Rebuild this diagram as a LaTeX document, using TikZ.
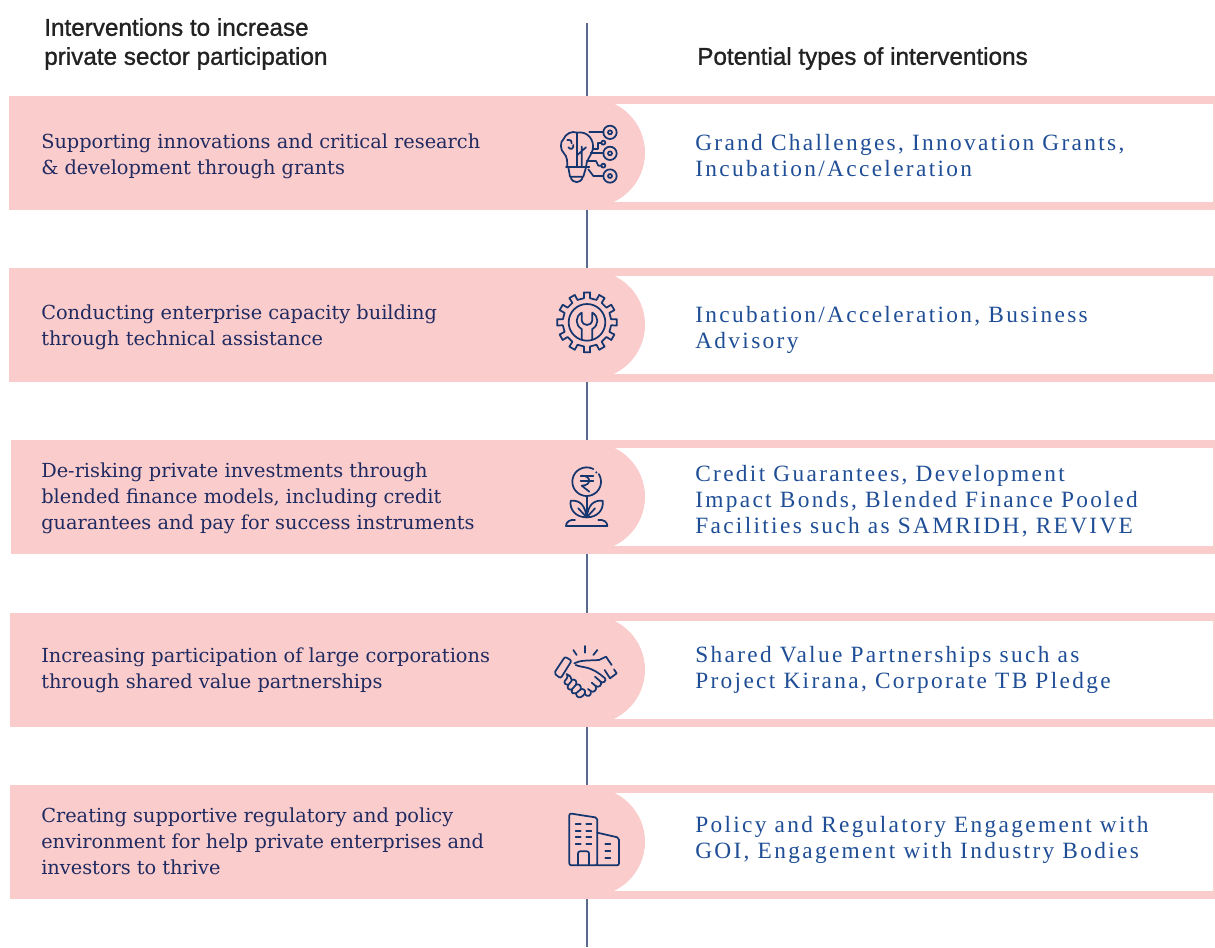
\documentclass[tikz,border=0pt]{standalone}
\usepackage{fontspec}
\setmainfont{DejaVu Serif}
\newfontfamily\lefttxt{DejaVu Serif}
\newfontfamily\righttxt[LetterSpace=10]{Liberation Serif}
\newfontfamily\headtxt[FakeBold=1.2]{Liberation Sans}
\definecolor{bandpink}{HTML}{FBCCCC}
\definecolor{axisline}{HTML}{5A6A8C}
\definecolor{navy}{HTML}{1F2A60}
\definecolor{rblue}{HTML}{1F4E96}
\definecolor{icon}{HTML}{14356E}
\definecolor{headc}{HTML}{222222}
\tikzset{
  lefttext/.style={anchor=west,inner sep=0pt,align=left,text=navy,font=\lefttxt\fontsize{14.5}{19.5}\selectfont},
  righttext/.style={anchor=west,inner sep=0pt,align=left,text=rblue,font=\righttxt\fontsize{17.5}{19.5}\selectfont},
  headtext/.style={anchor=west,inner sep=0pt,align=left,text=headc,font=\headtxt\fontsize{18.2}{21.75}\selectfont},
  ic/.style={draw=icon,line width=1.3pt,line cap=round,line join=round},
  iczoom/.style={x=0.25pt,y=-0.25pt},
}
\begin{document}
\begin{tikzpicture}[x=0.75pt,y=-0.75pt]
\useasboundingbox (0,0) rectangle (1215,947);
\fill[white] (0,0) rectangle (1215,947);
\coordinate (axistop) at (587,23);
\coordinate (axisbottom) at (587,947);
\draw[axisline,line width=1pt] (axistop) -- (axisbottom);
\foreach \t/\l in {96/9,268/9,440/10.5,613/10,785/10}{
  \fill[bandpink] (587,\t) rectangle (1215,\t+113.5);
  \fill[white] (600,\t+7.5) rectangle (1213,\t+106);
  \fill[bandpink] (\l,\t) rectangle (591,\t+113.5);
  \fill[bandpink] (590.7,\t+56.75) circle (54.3);
}
\node[headtext] (h1) at (44,44) {Interventions to increase\\private sector participation};
\node[headtext] (h2) at (697,58.5) {Potential types of interventions};

\node[lefttext] (l1) at (41,156) {Supporting innovations and critical research\\\& development through grants};
\node[lefttext] (l2) at (41,327) {Conducting enterprise capacity building\\through technical assistance};
\node[lefttext] (l3) at (41,498) {De-risking private investments through\\blended finance models, including credit\\guarantees and pay for success instruments};
\node[lefttext] (l4) at (41,670) {Increasing participation of large corporations\\through shared value partnerships};
\node[lefttext] (l5) at (41,841) {Creating supportive regulatory and policy\\environment for help private enterprises and\\investors to thrive};

\node[righttext] (r1) at (695,156) {Grand Challenges, Innovation Grants,\\Incubation/Acceleration};
\node[righttext] (r2) at (695,330) {Incubation/Acceleration, Business\\Advisory};
\node[righttext] (r3) at (695,501) {Credit Guarantees, Development\\Impact Bonds, Blended Finance Pooled\\Facilities such as SAMRIDH, REVIVE};
\node[righttext] (r4) at (695,670) {Shared Value Partnerships such as\\Project Kirana, Corporate TB Pledge};
\node[righttext] (r5) at (695,840) {Policy and Regulatory Engagement with\\GOI, Engagement with Industry Bodies};

% icon 1: brain bulb
\begin{scope}[shift={(530,90)},iczoom]
  \draw[ic] (240,127) circle (20) (240,190) circle (20) (240,258) circle (20);
  \draw[ic] (240,127) circle (6) (240,190) circle (6) (240,258) circle (6);
  \draw[ic] (220,158) circle (6) (220,227) circle (6);
  \draw[ic] (178,127) -- (220,127);
  \draw[ic] (190,178) -- (205,178) -- (205,158) -- (214,158);
  \draw[ic] (182,190) -- (220,190);
  \draw[ic] (170,213) -- (198,213) -- (205,227) -- (214,227);
  \draw[ic] (175,238) -- (190,258) -- (220,258);
  \draw[ic] (142,128) -- (142,232);
  \draw[ic] (142,128) .. controls (125,122) and (108,130) .. (100,148) .. controls (90,155) and (90,180) .. (102,190) .. controls (112,200) and (112,215) .. (112,232);
  \draw[ic] (142,128) .. controls (172,122) and (195,150) .. (188,180) .. controls (182,200) and (168,210) .. (168,232);
  \draw[ic] (108,232) -- (178,232);
  \draw[ic] (115,232) -- (120,260) -- (160,260) -- (168,232);
  \draw[ic] (122,260) .. controls (125,282) and (155,282) .. (158,260);
  \draw[ic] (155,232) -- (155,170) (142,195) -- (168,172);
  \draw[ic] (115,172) .. controls (125,182) and (130,175) .. (130,165);
  \draw[ic] (112,150) .. controls (122,148) and (128,155) .. (125,160);
\end{scope}

% icon 2: gear and wrench
\begin{scope}[shift={(530,265)},iczoom]
  \begin{scope}[shift={(171,172)}]
    \draw[ic] (-9:73)
      \foreach \a in {0,30,...,330}{ -- (\a-7:73) -- (\a-6:90) -- (\a+6:90) -- (\a+7:73) -- (\a+23:73) }
      -- cycle;
    \draw[ic] (0,0) circle (55);
  \end{scope}
  \draw[ic] (155,222) -- (155,192) .. controls (135,180) and (135,155) .. (155,143) -- (155,165) .. controls (158,185) and (184,185) .. (187,165) -- (187,143) .. controls (207,155) and (207,180) .. (187,192) -- (187,222);
\end{scope}

% icon 3: rupee plant
\begin{scope}[shift={(530,440)},iczoom]
  \draw[ic] (170,125) ++(-32:43) arc[start angle=-32,end angle=298,radius=43];
  \fill[icon] (199,97) circle (3.5);
  \draw[ic] (152,107) -- (190,107) (152,122) -- (190,122);
  \draw[ic] (155,107) .. controls (185,107) and (185,137) .. (155,137) -- (178,155);
  \draw[ic] (170,168) -- (170,232);
  \draw[ic] (170,232) .. controls (165,195) and (150,180) .. (122,182) .. controls (118,210) and (138,232) .. (170,232);
  \draw[ic] (170,232) .. controls (175,195) and (190,180) .. (218,182) .. controls (222,210) and (202,232) .. (170,232);
  \draw[ic] (145,205) -- (170,232) -- (195,205);
  \draw[ic] (108,258) -- (232,258);
  \draw[ic] (108,258) .. controls (108,245) and (120,238) .. (135,240);
  \draw[ic] (232,258) .. controls (232,245) and (220,238) .. (205,240);
\end{scope}

% icon 4: handshake
\begin{scope}[shift={(530,610)},iczoom]
  \draw[ic] (165,108) -- (165,128) (130,120) -- (140,135) (202,120) -- (190,135);
  \draw[ic,rounded corners=1.5pt] (105,140) -- (125,152) -- (92,205) -- (72,190) -- cycle;
  \draw[ic] (207,150) -- (228,140) -- (245,165);
  \draw[ic] (252,178) -- (260,190) -- (240,205) -- (224,180);
  \draw[ic] (133,160) .. controls (150,150) and (175,152) .. (207,150);
  \draw[ic] (137,165) .. controls (160,175) and (180,165) .. (225,205) .. controls (230,212) and (220,222) .. (212,215) -- (195,200);
  \draw[ic] (212,215) .. controls (218,225) and (205,235) .. (197,228) -- (185,218);
  \draw[ic] (197,228) .. controls (203,240) and (190,250) .. (182,243) -- (174,237);
  \draw[ic] (182,243) .. controls (186,258) and (172,262) .. (165,253);
  \draw[ic] (110,192) .. controls (118,200) and (105,212) .. (105,212) .. controls (100,220) and (108,226) .. (115,225) .. controls (108,234) and (118,242) .. (126,238) .. controls (122,250) and (132,254) .. (138,250) .. controls (138,262) and (150,266) .. (158,258) -- (165,250) .. controls (168,240) and (160,235) .. (152,238) .. controls (155,228) and (148,220) .. (138,224) .. controls (142,214) and (135,205) .. (125,210) .. controls (125,200) and (118,196) .. (110,192);
  \draw[ic] (115,225) -- (125,212) (126,238) -- (138,224) (138,250) -- (152,238);
\end{scope}

% icon 5: buildings
\begin{scope}[shift={(530,780)},iczoom]
  \draw[ic,rounded corners=1.5pt] (118,100) -- (202,113) -- (202,256) -- (118,256) -- cycle;
  \draw[ic,rounded corners=1.5pt] (202,158) -- (267,173) -- (267,256) -- (202,256);
  \draw[ic,rounded corners=1.5pt] (144,256) -- (144,214) -- (177,214) -- (177,256);
  \foreach \y in {132,152,172,193}{
    \draw[ic] (137,\y) -- (152,\y) (169,\y) -- (184,\y);
  }
  \foreach \y in {192,213,234}{
    \draw[ic] (226,\y) -- (241,\y);
  }
\end{scope}
\end{tikzpicture}
\end{document}
